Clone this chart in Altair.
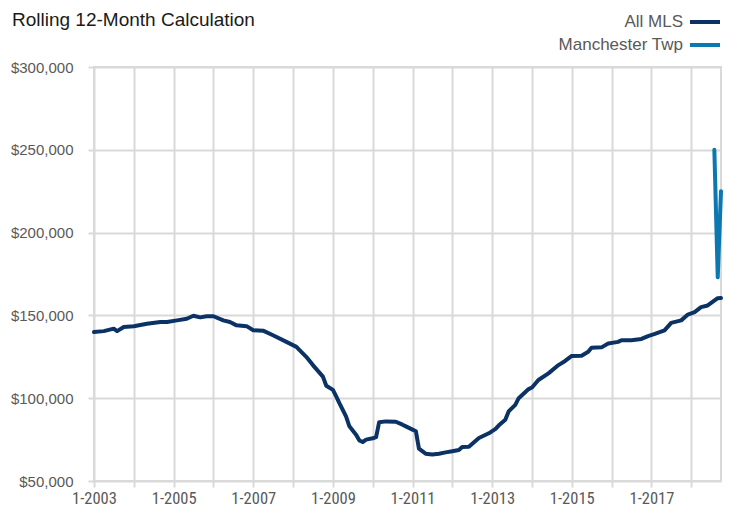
import altair as alt
import pandas as pd

series_names = ["All MLS", "Manchester Twp"]
series_colors = ["#0b3264", "#0b78b0"]

mls_months = [
    "2003-01", "2003-04", "2003-07", "2003-08", "2003-10", "2004-01", "2004-05", "2004-09",
    "2004-11", "2005-02", "2005-05", "2005-07", "2005-09", "2005-11", "2006-01", "2006-04",
    "2006-06", "2006-08", "2006-11", "2007-01", "2007-04", "2007-07", "2007-11", "2008-02",
    "2008-03", "2008-05", "2008-07", "2008-10", "2008-11", "2009-01", "2009-02", "2009-03",
    "2009-05", "2009-06", "2009-08", "2009-09", "2009-10", "2009-11", "2010-01", "2010-02",
    "2010-03", "2010-05", "2010-08", "2010-10", "2010-11", "2011-01", "2011-02", "2011-03",
    "2011-05", "2011-07", "2011-09", "2011-11", "2012-01", "2012-03", "2012-04", "2012-06",
    "2012-09", "2012-12", "2013-02", "2013-03", "2013-05", "2013-06", "2013-08", "2013-09",
    "2013-12", "2014-01", "2014-03", "2014-06", "2014-09", "2014-11", "2015-01", "2015-04",
    "2015-06", "2015-07", "2015-10", "2015-12", "2016-03", "2016-04", "2016-07", "2016-10",
    "2016-12", "2017-02", "2017-05", "2017-07", "2017-10", "2017-12", "2018-02", "2018-04",
    "2018-06", "2018-09", "2018-10",
]
mls_values = [
    140000, 140500, 142000, 140500, 143000, 143500, 145000, 146000,
    146000, 147000, 148000, 149800, 148800, 149500, 149500, 147000,
    146000, 144000, 143500, 141000, 140800, 138000, 134000, 131000,
    129000, 125000, 120000, 113000, 107500, 105000, 101000, 97000,
    89000, 83000, 78000, 74500, 73500, 75000, 75800, 76500,
    85500, 86000, 85800, 84000, 83000, 81000, 80000, 69500,
    66500, 66000, 66500, 67300, 68000, 68700, 70500, 70700,
    76000, 78800, 81500, 83500, 87000, 92000, 96000, 100000,
    105500, 106500, 111000, 115000, 120000, 122500, 125500, 125700,
    128000, 130500, 130700, 133000, 134000, 135000, 135000, 135800,
    137500, 138800, 141000, 145500, 147000, 150500, 152000, 155000,
    156000, 160400, 160500,
]

twp_months = ["2018-08", "2018-09", "2018-10"]
twp_values = [250000, 173000, 225000]

year_ticks = list(range(2003, 2019))
y_ticks = [50000, 100000, 150000, 200000, 250000, 300000]

df = pd.DataFrame({
    "date": [m + "-01T00:00:00" for m in mls_months] + [m + "-01T00:00:00" for m in twp_months],
    "value": mls_values + twp_values,
    "series": [series_names[0]] * len(mls_values) + [series_names[1]] * len(twp_values),
})

FONT = "Liberation Sans, Arial, sans-serif"
NARROW = "Roboto Condensed, Liberation Sans Narrow, DejaVu Sans Condensed, sans-serif"
GRID = "#d9d9d9"
LABEL = "#595959"

chart = alt.Chart(df).mark_line(strokeWidth=4, strokeJoin="round", strokeCap="round").encode(
    x=alt.X(
        "date:T",
        title=None,
        scale=alt.Scale(domain=[alt.DateTime(year=2003, month=1, date=1), alt.DateTime(year=2018, month=10, date=1)]),
        axis=alt.Axis(
            values=[alt.DateTime(year=y, month=1, date=1) for y in year_ticks],
            labelExpr="year(datum.value) % 2 == 1 ? '1-' + year(datum.value) : ''",
            grid=True, gridColor=GRID, gridWidth=2,
            ticks=True, tickColor=GRID, tickWidth=2, tickSize=6,
            domain=False, labelPadding=3, labelFontSize=16.5, labelColor=LABEL,
            labelFont=NARROW, labelFlush=False, labelOverlap=False,
        ),
    ),
    y=alt.Y(
        "value:Q",
        title=None,
        scale=alt.Scale(domain=[50000, 300000], nice=False, zero=False),
        axis=alt.Axis(
            values=y_ticks, format="$,.0f",
            grid=True, gridColor=GRID, gridWidth=2,
            ticks=True, tickColor=GRID, tickWidth=2, tickSize=6,
            domain=False, labelPadding=15, labelFontSize=15, labelColor=LABEL,
            labelFont=FONT,
        ),
    ),
    color=alt.Color(
        "series:N",
        scale=alt.Scale(domain=series_names, range=series_colors),
        legend=alt.Legend(
            title=None, orient="none", legendX=599, legendY=-57,
            symbolType="M-1.5,0H1.5", symbolSize=400, symbolStrokeWidth=4,
            labelAlign="right", labelOffset={"expr": "-34"}, labelFontSize=17,
            labelColor=LABEL, labelFont=FONT, rowPadding=3,
        ),
    ),
    order=alt.Order("date:T"),
).properties(
    width=627,
    height=414,
    title=alt.Title(
        "Rolling 12-Month Calculation", anchor="start", frame="group",
        dx=-82, offset=0, dy=20, fontSize=19, fontWeight="normal", font=FONT, color="#1a1a1a",
    ),
    autosize=alt.AutoSizeParams(type="none"),
    padding={"left": 86, "top": 59, "right": 2, "bottom": 26},
).configure_view(stroke=GRID, strokeWidth=2)

chart.save("out.html", embed_options={"renderer": "svg", "actions": False})
